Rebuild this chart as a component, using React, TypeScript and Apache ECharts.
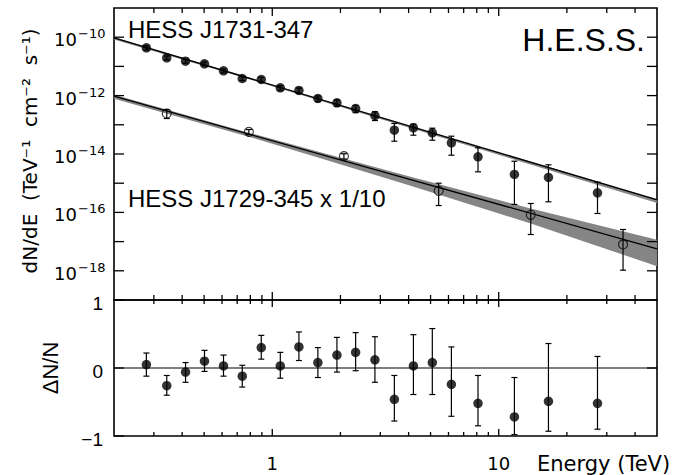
import React, { useEffect, useRef } from 'react';
import * as echarts from 'echarts';

// ---------- data ----------
// HESS J1731-347 (filled circles)
const energy = [0.278, 0.342, 0.414, 0.502, 0.609, 0.737, 0.894, 1.085, 1.311, 1.59, 1.93, 2.334, 2.84, 3.46, 4.2, 5.09, 6.18, 8.1, 11.73, 16.58, 27.3];
const fluxA = [4.33e-11, 1.97e-11, 1.51e-11, 1.23e-11, 7.06e-12, 3.85e-12, 3.56e-12, 1.85e-12, 1.5e-12, 7.96e-13, 5.67e-13, 3.61e-13, 2.08e-13, 6.53e-14, 7.89e-14, 5.32e-14, 2.42e-14, 8.02e-15, 1.99e-15, 1.57e-15, 4.69e-16];
const fluxALo = [3.6e-11, 1.67e-11, 1.28e-11, 1.05e-11, 6.0e-12, 3.25e-12, 2.92e-12, 1.5e-12, 1.19e-12, 6.2e-13, 4.25e-13, 2.6e-13, 1.4e-13, 2.74e-14, 4.41e-14, 2.97e-14, 9.1e-15, 2.45e-15, 1.87e-16, 2.31e-16, 9.16e-17];
const fluxAHi = [5.1e-11, 2.27e-11, 1.74e-11, 1.42e-11, 8.1e-12, 4.45e-12, 4.2e-12, 2.2e-12, 1.82e-12, 9.7e-13, 7.1e-13, 4.6e-13, 2.8e-13, 1.11e-13, 1.05e-13, 7.66e-14, 4.07e-14, 1.63e-14, 5.66e-15, 4.27e-15, 1.08e-15];

// HESS J1729-345 x 1/10 (open circles)
const energyB = [0.342, 0.788, 2.072, 5.43, 13.85, 35.4];
const fluxB = [2.44e-13, 5.75e-14, 8.41e-15, 5.5e-16, 8.28e-17, 7.96e-18];
const fluxBLo = [1.64e-13, 4.6e-14, 6.7e-15, 1.72e-16, 1.75e-17, 1.05e-18];
const fluxBHi = [3.34e-13, 6.9e-14, 1.02e-14, 1.0e-15, 2.02e-16, 2.6e-17];

// fitted power laws (end points) and their bands
const fitE = [0.2, 50];
const fitA = [9.53e-11, 2.66e-16];
const fitB = [9.53e-13, 5.66e-18];
const bandAE = [0.2, 1, 50];
const bandALo = [8.34e-11, 2.11e-12, 2.1e-16];
const bandAHi = [1.016e-10, 2.4e-12, 2.88e-16];
const bandBE = [0.2, 0.794, 1.618, 4.045, 13.85, 50];
const bandBLo = [7.83e-13, 3.85e-14, 7.24e-15, 8.41e-16, 4.2e-17, 1.44e-18];
const bandBHi = [1.074e-12, 5.28e-14, 1.16e-14, 1.71e-15, 1.37e-16, 1.15e-17];

// residuals  dN/N
const resid = [0.05, -0.26, -0.06, 0.1, 0.03, -0.12, 0.3, 0.03, 0.31, 0.08, 0.19, 0.23, 0.12, -0.46, 0.03, 0.08, -0.24, -0.52, -0.72, -0.49, -0.52];
const residHi = [0.22, -0.11, 0.08, 0.26, 0.19, 0.04, 0.48, 0.23, 0.53, 0.3, 0.45, 0.52, 0.46, -0.11, 0.49, 0.58, 0.31, -0.11, -0.14, 0.36, 0.17];
const residLo = [-0.12, -0.4, -0.21, -0.05, -0.12, -0.28, 0.13, -0.15, 0.11, -0.14, -0.06, -0.04, -0.21, -0.78, -0.39, -0.39, -0.71, -0.85, -0.98, -0.93, -0.9];

// axes
const X_MIN = 0.2;
const X_MAX = 50;
const Y_MIN = 1e-19;
const Y_MAX = 1e-9;
const xMajorTicks = [1, 10];
const xMinorTicks = [0.3, 0.4, 0.5, 0.6, 0.7, 0.8, 0.9, 2, 3, 4, 5, 6, 7, 8, 9, 20, 30, 40];
const yDecadeTicks = [1e-18, 1e-17, 1e-16, 1e-15, 1e-14, 1e-13, 1e-12, 1e-11, 1e-10];
const yLabelExps = [-10, -12, -14, -16, -18];
const rTicks = [-1, 0, 1];
const xLabelValues = [1, 10];

function tickLine(x1: number, y1: number, x2: number, y2: number, w = 1.3) {
  return { type: 'line', shape: { x1, y1, x2, y2 }, style: { stroke: '#000', lineWidth: w } };
}

function txt(x: number, y: number, text: string, size: number, family: string, align: string) {
  return {
    type: 'text', x, y,
    style: { text, fill: '#000', fontSize: size, fontFamily: family, align, verticalAlign: 'middle', textAlign: align, textVerticalAlign: 'middle' },
  };
}

function bandRender(E: number[], lo: number[], hi: number[], fill: string) {
  return (params: any, api: any) => {
    if (params.dataIndex !== 0) return null;
    const upper = E.map((e, i) => api.coord([e, hi[i]]));
    const lower = E.map((e, i) => api.coord([e, lo[i]])).reverse();
    return { type: 'polygon', shape: { points: upper.concat(lower) }, style: { fill } };
  };
}

function errRender(params: any, api: any) {
  const x = api.value(0);
  const lo = api.coord([x, api.value(1)]);
  const hi = api.coord([x, api.value(2)]);
  const c = 3;
  return {
    type: 'group',
    children: [
      tickLine(lo[0], lo[1], hi[0], hi[1], 1.2),
      tickLine(lo[0] - c, lo[1], lo[0] + c, lo[1], 1.2),
      tickLine(hi[0] - c, hi[1], hi[0] + c, hi[1], 1.2),
    ],
  };
}

function topTickRender(params: any, api: any) {
  const kind = api.value(2);
  if (kind < 2) {
    const E = api.value(0);
    const pb = api.coord([E, Y_MIN]);
    const pt = api.coord([E, Y_MAX]);
    const len = kind === 0 ? 8 : 5;
    return { type: 'group', children: [tickLine(pb[0], pb[1], pb[0], pb[1] - len), tickLine(pt[0], pt[1], pt[0], pt[1] + len)] };
  }
  const v = api.value(1);
  const pl = api.coord([X_MIN, v]);
  const pr = api.coord([X_MAX, v]);
  const children: any[] = [tickLine(pl[0], pl[1], pl[0] + 10, pl[1]), tickLine(pr[0], pr[1], pr[0] - 10, pr[1])];
  const e = Math.round(Math.log10(v));
  if (yLabelExps.includes(e)) {
    children.push(txt(pl[0] - 37, pl[1] + 2.5, '10', 18, 'DejaVu Sans', 'right'));
    children.push(txt(pl[0] - 36, pl[1] - 3.5, '\u2212' + String(-e), 13, 'DejaVu Sans', 'left'));
  }
  return { type: 'group', children };
}

function botTickRender(params: any, api: any) {
  const kind = api.value(2);
  if (kind < 2) {
    const E = api.value(0);
    const pb = api.coord([E, -1]);
    const pt = api.coord([E, 1]);
    const len = kind === 0 ? 7 : 4;
    return { type: 'group', children: [tickLine(pb[0], pb[1], pb[0], pb[1] - len), tickLine(pt[0], pt[1], pt[0], pt[1] + len)] };
  }
  const v = api.value(1);
  const pl = api.coord([X_MIN, v]);
  const pr = api.coord([X_MAX, v]);
  const children: any[] = [tickLine(pl[0], pl[1], pl[0] + 10, pl[1])];
  if (v === 0) children.push(tickLine(pr[0], pr[1], pr[0] - 10, pr[1]));
  const label = v < 0 ? '\u2212' + String(-v) : String(v);
  children.push(txt(pl[0] - 11, pl[1] + 3, label, 19, 'Liberation Sans', 'right'));
  return { type: 'group', children };
}

export default function App() {
  const ref = useRef<HTMLDivElement>(null);
  useEffect(() => {
    document.body.style.margin = '0';
    const chart = echarts.init(ref.current!, null, { renderer: 'svg' });
    const topTicks = [
      ...xMajorTicks.map((e) => [e, Y_MIN, 0]),
      ...xMinorTicks.map((e) => [e, Y_MIN, 1]),
      ...yDecadeTicks.map((v) => [X_MIN, v, 2]),
    ];
    const botTicks = [
      ...xMajorTicks.map((e) => [e, 0, 0]),
      ...xMinorTicks.map((e) => [e, 0, 1]),
      ...rTicks.map((v) => [X_MIN, v, 2]),
    ];
    const hidden = { axisLine: { show: false }, axisTick: { show: false }, splitLine: { show: false } };
    const option: any = {
      animation: false,
      backgroundColor: '#fff',
      grid: [
        { left: 114, top: 8, width: 543, height: 292, show: true, borderColor: '#000', borderWidth: 1.6, backgroundColor: 'transparent' },
        { left: 114, top: 300, width: 543, height: 136, show: true, borderColor: '#000', borderWidth: 1.6, backgroundColor: 'transparent' },
      ],
      xAxis: [
        { type: 'log', logBase: 10, gridIndex: 0, min: X_MIN, max: X_MAX, ...hidden, axisLabel: { show: false } },
        {
          type: 'log', logBase: 10, gridIndex: 1, min: X_MIN, max: X_MAX, ...hidden,
          axisLabel: {
            margin: 18, color: '#000', fontFamily: 'DejaVu Sans', fontSize: 18,
            formatter: (v: number) => {
              const hit = xLabelValues.find((t) => Math.abs(t - v) / t < 1e-6);
              return hit !== undefined ? String(hit) : '';
            },
          },
        },
      ],
      yAxis: [
        { type: 'log', logBase: 10, gridIndex: 0, min: Y_MIN, max: Y_MAX, ...hidden, axisLabel: { show: false } },
        { type: 'value', gridIndex: 1, min: -1, max: 1, interval: 1, ...hidden, axisLabel: { show: false } },
      ],
      series: [
        { type: 'custom', xAxisIndex: 0, yAxisIndex: 0, clip: true, silent: true, renderItem: bandRender(bandBE, bandBLo, bandBHi, '#858585'), data: bandBE.map((e, i) => [e, bandBLo[i], bandBHi[i]]), z: 1 },
        { type: 'custom', xAxisIndex: 0, yAxisIndex: 0, clip: true, silent: true, renderItem: bandRender(bandAE, bandALo, bandAHi, '#8a8a8a'), data: bandAE.map((e, i) => [e, bandALo[i], bandAHi[i]]), z: 1 },
        { type: 'line', xAxisIndex: 0, yAxisIndex: 0, showSymbol: false, lineStyle: { color: '#000', width: 1.3 }, data: fitE.map((e, i) => [e, fitA[i]]), z: 2 },
        { type: 'line', xAxisIndex: 0, yAxisIndex: 0, showSymbol: false, lineStyle: { color: '#000', width: 1.3 }, data: fitE.map((e, i) => [e, fitB[i]]), z: 2 },
        { type: 'custom', xAxisIndex: 0, yAxisIndex: 0, renderItem: errRender, data: energy.map((e, i) => [e, fluxALo[i], fluxAHi[i]]), z: 3 },
        { type: 'custom', xAxisIndex: 0, yAxisIndex: 0, renderItem: errRender, data: energyB.map((e, i) => [e, fluxBLo[i], fluxBHi[i]]), z: 3 },
        { type: 'scatter', xAxisIndex: 0, yAxisIndex: 0, symbol: 'circle', symbolSize: 9.5, itemStyle: { color: '#000' }, data: energy.map((e, i) => [e, fluxA[i]]), z: 4 },
        { type: 'scatter', xAxisIndex: 0, yAxisIndex: 0, symbol: 'circle', symbolSize: 9, itemStyle: { color: 'rgba(0,0,0,0)', borderColor: '#000', borderWidth: 1.1 }, data: energyB.map((e, i) => [e, fluxB[i]]), z: 4 },
        { type: 'line', xAxisIndex: 1, yAxisIndex: 1, showSymbol: false, lineStyle: { color: '#000', width: 1.1 }, data: [[X_MIN, 0], [X_MAX, 0]], z: 2 },
        { type: 'custom', xAxisIndex: 1, yAxisIndex: 1, renderItem: errRender, data: energy.map((e, i) => [e, residLo[i], residHi[i]]), z: 3 },
        { type: 'scatter', xAxisIndex: 1, yAxisIndex: 1, symbol: 'circle', symbolSize: 9.5, itemStyle: { color: '#000' }, data: energy.map((e, i) => [e, resid[i]]), z: 4 },
        { type: 'custom', xAxisIndex: 0, yAxisIndex: 0, silent: true, renderItem: topTickRender, data: topTicks, z: 5 },
        { type: 'custom', xAxisIndex: 1, yAxisIndex: 1, silent: true, renderItem: botTickRender, data: botTicks, z: 5 },
      ],
      graphic: [
        { type: 'text', x: 128, y: 29, style: { text: 'HESS J1731-347', fill: '#000', fontFamily: 'Liberation Sans', fontSize: 24, align: 'left', verticalAlign: 'middle', textAlign: 'left', textVerticalAlign: 'middle' } },
        { type: 'text', x: 128, y: 198, style: { text: 'HESS J1729-345 x 1/10', fill: '#000', fontFamily: 'Liberation Sans', fontSize: 24, align: 'left', verticalAlign: 'middle', textAlign: 'left', textVerticalAlign: 'middle' } },
        { type: 'text', x: 645, y: 40, style: { text: 'H.E.S.S.', fill: '#000', fontFamily: 'Liberation Sans', fontSize: 32, align: 'right', verticalAlign: 'middle', textAlign: 'right', textVerticalAlign: 'middle' } },
        { type: 'text', x: 30, y: 151, rotation: Math.PI / 2, style: { text: 'dN/dE  (TeV⁻¹  cm⁻²  s⁻¹)', fill: '#000', fontFamily: 'DejaVu Sans', fontSize: 20, align: 'center', verticalAlign: 'middle', textAlign: 'center', textVerticalAlign: 'middle' } },
        { type: 'text', x: 50, y: 368, rotation: Math.PI / 2, style: { text: 'ΔN/N', fill: '#000', fontFamily: 'Liberation Sans', fontSize: 22, align: 'center', verticalAlign: 'middle', textAlign: 'center', textVerticalAlign: 'middle' } },
        { type: 'text', x: 537, y: 464, style: { text: 'Energy (TeV)', fill: '#000', fontFamily: 'DejaVu Sans', fontSize: 21, align: 'left', verticalAlign: 'middle', textAlign: 'left', textVerticalAlign: 'middle' } },
      ],
    };
    chart.setOption(option);
    return () => chart.dispose();
  }, []);
  return <div ref={ref} style={{ position: 'fixed', left: 0, top: 0, width: 700, height: 475 }} />;
}
